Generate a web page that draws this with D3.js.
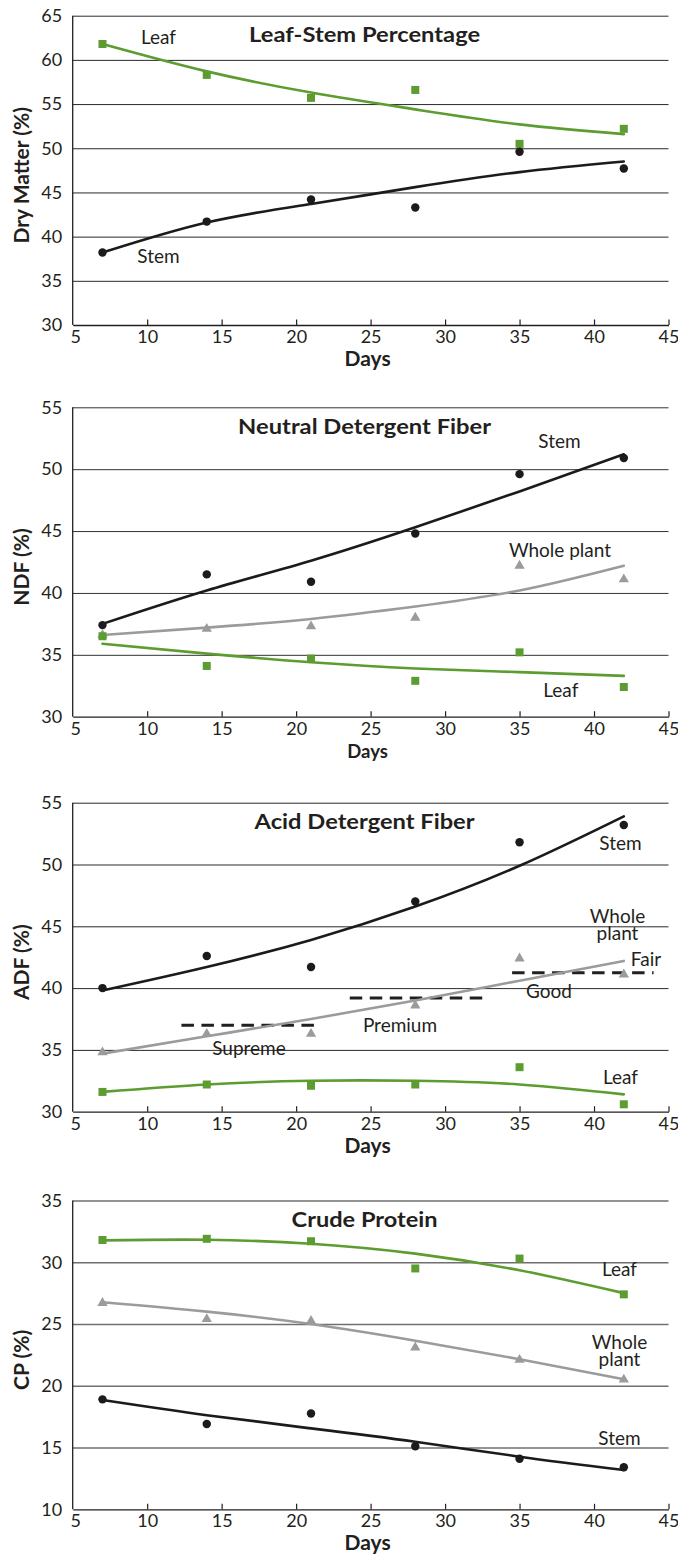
<!DOCTYPE html>
<html>
<head>
<meta charset="utf-8">
<script src="https://cdn.jsdelivr.net/npm/d3@7/dist/d3.min.js"></script>
<style>
  html, body { margin: 0; padding: 0; background: #fff; }
  svg { display: block; }
  text { font-family: Lato, "Open Sans", sans-serif; fill: #231f20; }
</style>
</head>
<body>
<svg id="chart" width="678" height="1556"></svg>
<script>
// Harvest days
const days = [7, 14, 21, 28, 35, 42];
const xTicks = [5, 10, 15, 20, 25, 30, 35, 40, 45];

// Leaf-Stem Percentage (dry matter, %)
const dmLeaf = [61.8, 58.3, 55.7, 56.6, 50.5, 52.2];
const dmStem = [38.2, 41.7, 44.2, 43.3, 49.6, 47.7];
const dmLeafTrend = [61.8, 58.7, 56.3, 54.4, 52.7, 51.6];
const dmStemTrend = [38.2, 41.6, 43.7, 45.6, 47.3, 48.5];
const dmTicks = [30, 35, 40, 45, 50, 55, 60, 65];

// Neutral Detergent Fiber (%)
const ndfStem = [37.4, 41.5, 40.9, 44.8, 49.6, 50.9];
const ndfWhole = [36.6, 37.1, 37.3, 38.0, 42.2, 41.1];
const ndfLeaf = [36.5, 34.1, 34.7, 32.9, 35.2, 32.4];
const ndfStemTrend = [37.5, 40.2, 42.6, 45.3, 48.2, 51.2];
const ndfWholeTrend = [36.6, 37.2, 37.9, 38.9, 40.2, 42.2];
const ndfLeafTrend = [35.9, 35.1, 34.4, 33.9, 33.6, 33.3];
const ndfTicks = [30, 35, 40, 45, 50, 55];

// Acid Detergent Fiber (%)
const adfStem = [40.0, 42.6, 41.7, 47.0, 51.8, 53.2];
const adfWhole = [34.8, 36.3, 36.3, 38.6, 42.4, 41.1];
const adfLeaf = [31.6, 32.2, 32.1, 32.2, 33.6, 30.6];
const adfStemTrend = [39.8, 41.7, 43.9, 46.6, 49.9, 53.9];
const adfWholeTrend = [34.7, 36.1, 37.5, 39.0, 40.6, 42.2];
const adfLeafTrend = [31.6, 32.2, 32.5, 32.5, 32.2, 31.4];
const adfTicks = [30, 35, 40, 45, 50, 55];
// Hay quality grade thresholds: start day, end day, ADF %
const gradeFrom = [12.3, 23.6, 34.5];
const gradeTo = [21.7, 33.0, 44.0];
const gradeLevel = [37.0, 39.2, 41.25];

// Crude Protein (%)
const cpLeaf = [31.8, 31.9, 31.7, 29.5, 30.3, 27.4];
const cpWhole = [26.7, 25.4, 25.25, 23.1, 22.1, 20.5];
const cpStem = [18.9, 16.9, 17.75, 15.1, 14.1, 13.4];
const cpLeafTrend = [31.77, 31.82, 31.5, 30.7, 29.35, 27.5];
const cpWholeTrend = [26.76, 26.0, 25.0, 23.65, 22.15, 20.53];
const cpStemTrend = [18.85, 17.62, 16.55, 15.47, 14.26, 13.18];
const cpTicks = [10, 15, 20, 25, 30, 35];

const GREEN = "#5c9c31", GRAY = "#9b9b9b", BLACK = "#1c1a1a";

const svg = d3.select("#chart");
const x = d3.scaleLinear().domain([5, 45]).range([72.7, 668.5]);

const panels = [
  {
    title: "Leaf-Stem Percentage", titleW: 231, yLabel: "Dry Matter (%)",
    domain: [30, 65], top: 15.7, bottom: 325, ticks: dmTicks,
    grid: "#2a2a2a", gridW: 1, daysSize: 21,
    series: [
      { vals: dmLeaf, trend: dmLeafTrend, color: GREEN, shape: "square" },
      { vals: dmStem, trend: dmStemTrend, color: BLACK, shape: "circle" }
    ],
    labels: [
      { t: ["Leaf"], x: 158.5, y: 44 },
      { t: ["Stem"], x: 158.5, y: 263 }
    ]
  },
  {
    title: "Neutral Detergent Fiber", titleW: 253, yLabel: "NDF (%)",
    domain: [30, 55], top: 407.3, bottom: 716.7, ticks: ndfTicks,
    grid: "#333", gridW: 1, daysSize: 18.5,
    series: [
      { vals: ndfStem, trend: ndfStemTrend, color: BLACK, shape: "circle" },
      { vals: ndfWhole, trend: ndfWholeTrend, color: GRAY, shape: "triangle" },
      { vals: ndfLeaf, trend: ndfLeafTrend, color: GREEN, shape: "square" }
    ],
    labels: [
      { t: ["Stem"], x: 559.5, y: 448.3 },
      { t: ["Whole plant"], x: 560, y: 556.7 },
      { t: ["Leaf"], x: 560.8, y: 696.5 }
    ]
  },
  {
    title: "Acid Detergent Fiber", titleW: 220, yLabel: "ADF (%)",
    domain: [30, 55], top: 802.7, bottom: 1111.7, ticks: adfTicks,
    grid: "#2a2a2a", gridW: 1, daysSize: 21,
    grades: true,
    series: [
      { vals: adfStem, trend: adfStemTrend, color: BLACK, shape: "circle" },
      { vals: adfWhole, trend: adfWholeTrend, color: GRAY, shape: "triangle" },
      { vals: adfLeaf, trend: adfLeafTrend, color: GREEN, shape: "square" }
    ],
    labels: [
      { t: ["Stem"], x: 620.5, y: 850 },
      { t: ["Whole", "plant"], x: 617.5, y: 923.3 },
      { t: ["Fair"], x: 646, y: 966 },
      { t: ["Good"], x: 549, y: 998.3 },
      { t: ["Premium"], x: 400, y: 1031.7 },
      { t: ["Supreme"], x: 249, y: 1055 },
      { t: ["Leaf"], x: 620.5, y: 1084 }
    ]
  },
  {
    title: "Crude Protein", titleW: 146, yLabel: "CP (%)",
    domain: [10, 35], top: 1200.5, bottom: 1509.3, ticks: cpTicks,
    grid: "#6f6f6f", gridW: 1.4, daysSize: 21,
    series: [
      { vals: cpLeaf, trend: cpLeafTrend, color: GREEN, shape: "square" },
      { vals: cpWhole, trend: cpWholeTrend, color: GRAY, shape: "triangle" },
      { vals: cpStem, trend: cpStemTrend, color: BLACK, shape: "circle" }
    ],
    labels: [
      { t: ["Leaf"], x: 619.5, y: 1276 },
      { t: ["Whole", "plant"], x: 619.5, y: 1349.3 },
      { t: ["Stem"], x: 619.5, y: 1445 }
    ]
  }
];

const symbolFor = {
  square: d3.symbol().type(d3.symbolSquare).size(64),
  circle: d3.symbol().type(d3.symbolCircle).size(56),
  triangle: d3.symbol().type(d3.symbolTriangle).size(46)
};

panels.forEach(p => {
  const g = svg.append("g");
  const y = d3.scaleLinear().domain(p.domain).range([p.bottom, p.top]);
  const [x0, x1] = x.range();

  // Horizontal gridlines
  g.append("g")
    .attr("transform", `translate(${x0},0)`)
    .call(d3.axisLeft(y).tickValues(p.ticks.slice(1)).tickSize(-(x1 - x0)).tickFormat(""))
    .call(a => a.select(".domain").remove())
    .call(a => a.selectAll(".tick line").attr("stroke", p.grid).attr("stroke-width", p.gridW));

  // Y tick labels
  g.append("g")
    .attr("transform", `translate(${x0},0)`)
    .call(d3.axisLeft(y).tickValues(p.ticks).tickSize(0).tickPadding(10.5))
    .call(a => a.select(".domain").remove())
    .call(a => a.selectAll("text").attr("font-size", 18).attr("font-family", "Lato").attr("fill", "#231f20"));

  // Left axis line
  g.append("line")
    .attr("x1", x0).attr("x2", x0).attr("y1", y(p.domain[1])).attr("y2", y(p.domain[0]))
    .attr("stroke", "#231f20").attr("stroke-width", 1.3);

  // Bottom axis with inward ticks
  g.append("g")
    .attr("transform", `translate(0,${y(p.domain[0])})`)
    .call(d3.axisBottom(x).tickValues(xTicks).tickSize(0).tickPadding(18))
    .call(a => a.select(".domain").attr("stroke", "#231f20").attr("stroke-width", 1.3))
    .call(a => a.selectAll("text").attr("font-size", 18).attr("font-family", "Lato").attr("fill", "#231f20")
      .attr("dy", "0").attr("dominant-baseline", "auto"))
    .call(a => a.selectAll(".tick").filter(d => d === 5).select("text").attr("dx", 2.5))
    .call(a => a.selectAll(".tick").filter(d => d > 5).append("line")
      .attr("y1", 0).attr("y2", -5.5).attr("stroke", "#231f20").attr("stroke-width", 1.2));

  // Axis titles
  g.append("text")
    .attr("x", (x0 + x1) / 2 - 3).attr("y", y(p.domain[0]) + 41)
    .attr("text-anchor", "middle").attr("font-weight", 700).attr("font-size", p.daysSize)
    .text("Days");
  const yc = (p.top + p.bottom) / 2 + 5;
  g.append("text")
    .attr("transform", `translate(28.5,${yc}) rotate(-90)`)
    .attr("text-anchor", "middle").attr("font-weight", 700).attr("font-size", 21)
    .text(p.yLabel);

  // Chart title
  g.append("text")
    .attr("x", 364.6).attr("y", p.top + 26.6)
    .attr("text-anchor", "middle").attr("font-weight", 700).attr("font-size", 21)
    .attr("textLength", p.titleW).attr("lengthAdjust", "spacingAndGlyphs")
    .text(p.title);

  // Hay quality grade thresholds
  if (p.grades) {
    g.selectAll("line.grade").data(gradeLevel).join("line")
      .attr("class", "grade")
      .attr("x1", (d, i) => x(gradeFrom[i])).attr("x2", (d, i) => x(gradeTo[i]))
      .attr("y1", d => y(d)).attr("y2", d => y(d))
      .attr("stroke", "#231f20").attr("stroke-width", 3).attr("stroke-dasharray", "12.5,7.5");
  }

  // Trend curves
  const line = d3.line().x((d, i) => x(days[i])).y(d => y(d)).curve(d3.curveNatural);
  p.series.forEach(s => {
    g.append("path").attr("d", line(s.trend))
      .attr("fill", "none").attr("stroke", s.color).attr("stroke-width", 2.6)
      .attr("stroke-linecap", "round");
  });

  // Observed values
  p.series.forEach(s => {
    g.selectAll(null).data(s.vals).join("path")
      .attr("d", symbolFor[s.shape])
      .attr("transform", (d, i) => `translate(${x(days[i])},${y(d)})`)
      .attr("fill", s.color);
  });

  // Series and grade labels (two-line labels as separate rows)
  p.labels.forEach(l => {
    l.t.forEach((str, k) => {
      g.append("text").attr("text-anchor", "middle").attr("font-size", 19)
        .attr("x", l.x).attr("y", l.y + k * 16.9).text(str);
    });
  });
});
</script>
</body>
</html>
